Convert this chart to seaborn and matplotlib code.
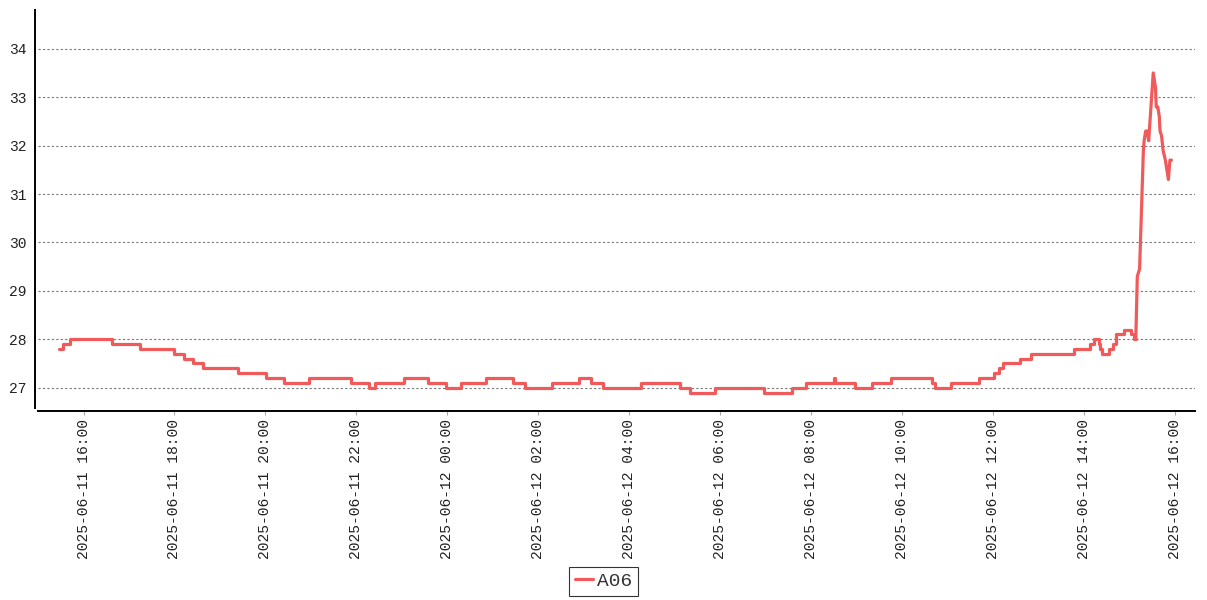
import matplotlib
matplotlib.use("Agg")
import matplotlib.pyplot as plt
import matplotlib.dates as mdates
import seaborn as sns
import pandas as pd

# ---- data -------------------------------------------------------------
# slowly varying part: value change points (held until next change)
step_times = [
    "2025-06-11 15:28", "2025-06-11 15:33", "2025-06-11 15:42", "2025-06-11 16:37",
    "2025-06-11 17:15", "2025-06-11 17:59", "2025-06-11 18:12", "2025-06-11 18:24",
    "2025-06-11 18:37", "2025-06-11 19:24", "2025-06-11 20:01", "2025-06-11 20:25",
    "2025-06-11 20:58", "2025-06-11 21:53", "2025-06-11 22:16", "2025-06-11 22:25",
    "2025-06-11 23:03", "2025-06-11 23:35", "2025-06-11 23:58", "2025-06-12 00:18",
    "2025-06-12 00:51", "2025-06-12 01:26", "2025-06-12 01:43", "2025-06-12 02:18",
    "2025-06-12 02:54", "2025-06-12 03:09", "2025-06-12 03:25", "2025-06-12 04:15",
    "2025-06-12 05:07", "2025-06-12 05:20", "2025-06-12 05:53", "2025-06-12 06:58",
    "2025-06-12 07:35", "2025-06-12 07:53", "2025-06-12 08:30", "2025-06-12 08:31",
    "2025-06-12 08:57", "2025-06-12 09:20", "2025-06-12 09:45", "2025-06-12 10:39",
    "2025-06-12 10:43", "2025-06-12 11:04", "2025-06-12 11:41", "2025-06-12 12:01",
    "2025-06-12 12:07", "2025-06-12 12:13", "2025-06-12 12:35", "2025-06-12 12:50",
    "2025-06-12 13:46", "2025-06-12 14:07", "2025-06-12 14:13", "2025-06-12 14:20",
    "2025-06-12 14:21", "2025-06-12 14:23", "2025-06-12 14:33", "2025-06-12 14:38",
    "2025-06-12 14:42", "2025-06-12 14:53", "2025-06-12 15:02", "2025-06-12 15:06",
    "2025-06-12 15:08",
]
step_values = [
    27.8, 27.9, 28.0, 27.9,
    27.8, 27.7, 27.6, 27.5,
    27.4, 27.3, 27.2, 27.1,
    27.2, 27.1, 27.0, 27.1,
    27.2, 27.1, 27.0, 27.1,
    27.2, 27.1, 27.0, 27.1,
    27.2, 27.1, 27.0, 27.1,
    27.0, 26.9, 27.0, 26.9,
    27.0, 27.1, 27.2, 27.1,
    27.0, 27.1, 27.2, 27.1,
    27.0, 27.1, 27.2, 27.3,
    27.4, 27.5, 27.6, 27.7,
    27.8, 27.9, 28.0, 27.9,
    27.8, 27.7, 27.8, 27.9,
    28.1, 28.2, 28.1, 28.0,
    28.0,
]
# fast rise at the end: individual readings
peak_times = [
    "2025-06-12 15:08", "2025-06-12 15:10", "2025-06-12 15:13", "2025-06-12 15:18",
    "2025-06-12 15:19", "2025-06-12 15:21", "2025-06-12 15:23", "2025-06-12 15:25",
    "2025-06-12 15:31", "2025-06-12 15:34", "2025-06-12 15:35", "2025-06-12 15:37",
    "2025-06-12 15:39", "2025-06-12 15:40", "2025-06-12 15:42", "2025-06-12 15:44",
    "2025-06-12 15:47", "2025-06-12 15:51", "2025-06-12 15:53", "2025-06-12 15:55",
]
peak_values = [
    28.0, 29.3, 29.45, 31.9,
    32.1, 32.3, 32.3, 32.1,
    33.5, 33.2, 32.8, 32.8,
    32.6, 32.3, 32.2, 31.9,
    31.7, 31.3, 31.7, 31.7,
]
series_name = "A06"
y_ticks = [27, 28, 29, 30, 31, 32, 33, 34]
x_start, x_end = "2025-06-11 15:00", "2025-06-12 16:26"
tick_start, tick_end = "2025-06-11 16:00", "2025-06-12 16:00"

# ---- plot -------------------------------------------------------------
sns.set_theme(style="white")
plt.rcParams["font.family"] = ["Liberation Mono", "DejaVu Sans"]

df_step = pd.DataFrame({"time": pd.to_datetime(step_times), "value": step_values, "sensor": series_name})
df_peak = pd.DataFrame({"time": pd.to_datetime(peak_times), "value": peak_values, "sensor": series_name})

fig = plt.figure(figsize=(12.07, 6.0), dpi=100)
ax = fig.add_axes([0.0315, 0.32, 0.9585, 0.6633])

color = "#f05a5a"
sns.lineplot(data=df_step, x="time", y="value", ax=ax, color=color, linewidth=2.3,
             drawstyle="steps-post", label=series_name, legend=False)
sns.lineplot(data=df_peak, x="time", y="value", ax=ax, color=color, linewidth=2.3,
             legend=False)

ax.set_xlim(pd.Timestamp(x_start), pd.Timestamp(x_end))
ax.set_ylim(26.58, 34.8)
ax.set_yticks(y_ticks)
ax.set_yticklabels([str(v) for v in y_ticks])
ax.set_xticks(pd.date_range(tick_start, tick_end, freq="2h"))
ax.xaxis.set_major_formatter(mdates.DateFormatter("%Y-%m-%d %H:%M"))
ax.set_xlabel("")
ax.set_ylabel("")

ax.tick_params(axis="y", length=0, pad=6, labelsize=10.5, labelcolor="#222222")
ax.tick_params(axis="x", length=3, width=0.8, color="#aaaaaa", pad=3, bottom=True,
               labelrotation=90, labelsize=10.5, labelcolor="#222222")
ax.yaxis.grid(True, color="#777777", linestyle=(0, (2, 2)), linewidth=0.8)
ax.xaxis.grid(False)

sns.despine(ax=ax, offset=2)
for s in ["left", "bottom"]:
    ax.spines[s].set_color("black")
    ax.spines[s].set_linewidth(1.4)

handles, labels = ax.get_legend_handles_labels()
leg = fig.legend(handles[:1], labels[:1], loc="lower center", bbox_to_anchor=(0.5, 0.0),
                 frameon=True, fancybox=False, fontsize=14, handlelength=0.9,
                 handletextpad=0.2, borderpad=0.3, borderaxespad=0.2)
leg.get_frame().set_edgecolor("black")
leg.get_frame().set_linewidth(0.8)
for t in leg.get_texts():
    t.set_color("#333333")

fig.savefig("out.png", dpi=100)
